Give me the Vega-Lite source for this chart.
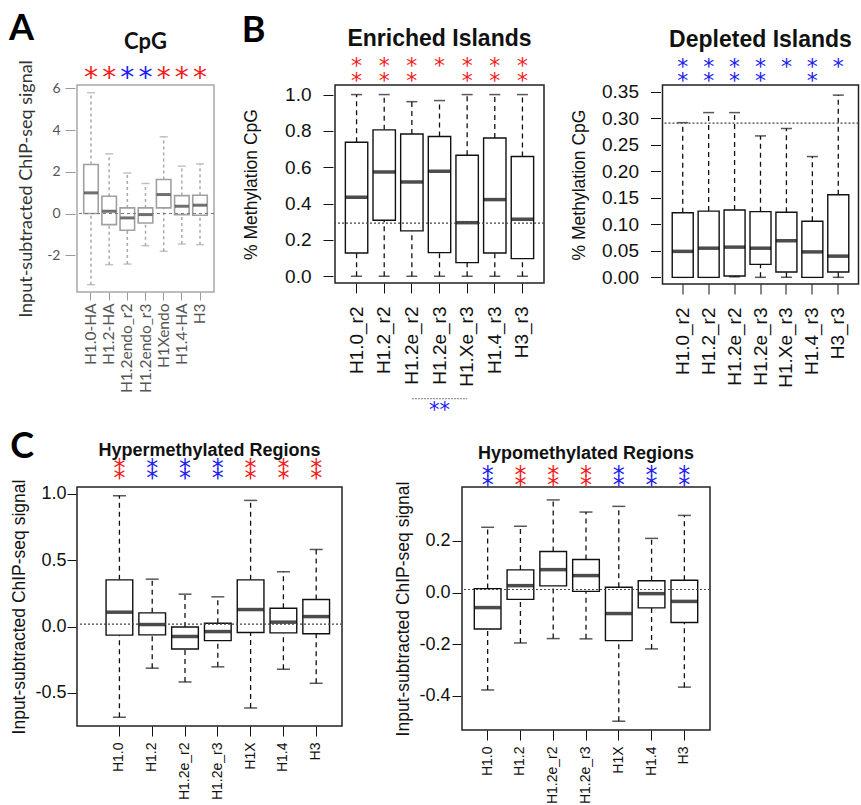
{
  "$schema": "https://vega.github.io/schema/vega-lite/v6.json",
  "padding": {"left": 8, "top": 10, "right": 0, "bottom": 0},
  "config": {
    "font": "Liberation Sans",
    "axis": {"grid": false, "domain": false, "tickColor": "#111", "labelColor": "#111", "titleColor": "#111", "titleFontWeight": "normal", "labelOverlap": false, "labelBound": false, "labelFlush": false},
    "title": {"fontWeight": "bold", "color": "#111"}
  },
  "datasets": {
    "cpg": [
      {"g": "H1.0-HA", "lo": -3.41, "q1": 0.0, "med": 0.99, "q3": 2.35, "hi": 5.79, "sig": "*", "c": "up"},
      {"g": "H1.2-HA", "lo": -2.45, "q1": -0.53, "med": 0.11, "q3": 0.83, "hi": 2.86, "sig": "*", "c": "up"},
      {"g": "H1.2endo_r2", "lo": -2.42, "q1": -0.8, "med": -0.21, "q3": 0.27, "hi": 1.94, "sig": "*", "c": "down"},
      {"g": "H1.2endo_r3", "lo": -1.54, "q1": -0.45, "med": -0.05, "q3": 0.27, "hi": 1.44, "sig": "*", "c": "down"},
      {"g": "H1Xendo", "lo": -1.81, "q1": 0.27, "med": 0.91, "q3": 1.63, "hi": 3.68, "sig": "*", "c": "up"},
      {"g": "H1.4-HA", "lo": -1.46, "q1": -0.05, "med": 0.35, "q3": 0.86, "hi": 2.27, "sig": "*", "c": "up"},
      {"g": "H3", "lo": -1.49, "q1": -0.08, "med": 0.4, "q3": 0.88, "hi": 2.38, "sig": "*", "c": "up"}
    ],
    "enriched": [
      {"g": "H1.0_r2", "lo": 0, "q1": 0.128, "med": 0.435, "q3": 0.738, "hi": 1.0, "sig": "*\n*", "c": "up"},
      {"g": "H1.2_r2", "lo": 0, "q1": 0.308, "med": 0.574, "q3": 0.806, "hi": 1.0, "sig": "*\n*", "c": "up"},
      {"g": "H1.2e_r2", "lo": 0, "q1": 0.25, "med": 0.519, "q3": 0.783, "hi": 0.961, "sig": "*\n*", "c": "up"},
      {"g": "H1.2e_r3", "lo": 0, "q1": 0.13, "med": 0.578, "q3": 0.769, "hi": 0.967, "sig": "*", "c": "up"},
      {"g": "H1.Xe_r3", "lo": 0, "q1": 0.075, "med": 0.295, "q3": 0.666, "hi": 1.0, "sig": "*\n*", "c": "up"},
      {"g": "H1.4_r3", "lo": 0, "q1": 0.128, "med": 0.422, "q3": 0.761, "hi": 1.0, "sig": "*\n*", "c": "up"},
      {"g": "H3_r3", "lo": 0, "q1": 0.097, "med": 0.314, "q3": 0.659, "hi": 1.0, "sig": "*\n*", "c": "up"}
    ],
    "depleted": [
      {"g": "H1.0_r2", "lo": 0, "q1": 0, "med": 0.049, "q3": 0.122, "hi": 0.292, "sig": "*\n*", "c": "down"},
      {"g": "H1.2_r2", "lo": 0, "q1": 0, "med": 0.055, "q3": 0.125, "hi": 0.311, "sig": "*\n*", "c": "down"},
      {"g": "H1.2e_r2", "lo": 0.001, "q1": 0.0025, "med": 0.057, "q3": 0.127, "hi": 0.311, "sig": "*\n*", "c": "down"},
      {"g": "H1.2e_r3", "lo": 0, "q1": 0.0245, "med": 0.055, "q3": 0.124, "hi": 0.267, "sig": "*\n*", "c": "down"},
      {"g": "H1.Xe_r3", "lo": 0, "q1": 0.01, "med": 0.069, "q3": 0.123, "hi": 0.281, "sig": "*", "c": "down"},
      {"g": "H1.4_r3", "lo": 0, "q1": 0, "med": 0.048, "q3": 0.106, "hi": 0.228, "sig": "*\n*", "c": "down"},
      {"g": "H3_r3", "lo": 0, "q1": 0.01, "med": 0.04, "q3": 0.156, "hi": 0.344, "sig": "*", "c": "down"}
    ],
    "hyper": [
      {"g": "H1.0", "lo": -0.684, "q1": -0.065, "med": 0.108, "q3": 0.352, "hi": 0.986, "sig": "*\n*", "c": "up"},
      {"g": "H1.2", "lo": -0.314, "q1": -0.063, "med": 0.015, "q3": 0.103, "hi": 0.357, "sig": "*\n*", "c": "down"},
      {"g": "H1.2e_r2", "lo": -0.418, "q1": -0.169, "med": -0.075, "q3": -0.003, "hi": 0.244, "sig": "*\n*", "c": "down"},
      {"g": "H1.2e_r3", "lo": -0.304, "q1": -0.106, "med": -0.038, "q3": 0.025, "hi": 0.224, "sig": "*\n*", "c": "down"},
      {"g": "H1X", "lo": -0.614, "q1": -0.045, "med": 0.128, "q3": 0.352, "hi": 0.951, "sig": "*\n*", "c": "up"},
      {"g": "H1.4", "lo": -0.322, "q1": -0.048, "med": 0.033, "q3": 0.138, "hi": 0.413, "sig": "*\n*", "c": "up"},
      {"g": "H3", "lo": -0.428, "q1": -0.055, "med": 0.075, "q3": 0.204, "hi": 0.581, "sig": "*\n*", "c": "up"}
    ],
    "hypo": [
      {"g": "H1.0", "lo": -0.377, "q1": -0.141, "med": -0.058, "q3": 0.0155, "hi": 0.253, "sig": "*\n*", "c": "down"},
      {"g": "H1.2", "lo": -0.195, "q1": -0.026, "med": 0.027, "q3": 0.088, "hi": 0.257, "sig": "*\n*", "c": "up"},
      {"g": "H1.2e_r2", "lo": -0.178, "q1": 0.026, "med": 0.089, "q3": 0.159, "hi": 0.359, "sig": "*\n*", "c": "up"},
      {"g": "H1.2e_r3", "lo": -0.179, "q1": 0.005, "med": 0.066, "q3": 0.128, "hi": 0.312, "sig": "*\n*", "c": "up"},
      {"g": "H1X", "lo": -0.498, "q1": -0.186, "med": -0.081, "q3": 0.021, "hi": 0.334, "sig": "*\n*", "c": "down"},
      {"g": "H1.4", "lo": -0.218, "q1": -0.059, "med": -0.004, "q3": 0.046, "hi": 0.21, "sig": "*\n*", "c": "down"},
      {"g": "H3", "lo": -0.366, "q1": -0.116, "med": -0.034, "q3": 0.048, "hi": 0.299, "sig": "*\n*", "c": "down"}
    ],
    "refs": [
      {"p": "A", "v": 0},
      {"p": "E", "v": 0.292},
      {"p": "D", "v": 0.291},
      {"p": "HR", "v": 0.018},
      {"p": "HO", "v": 0.012}
    ],
    "bracket": [
      {"a": "H1.2e_r2", "b": "H1.Xe_r3", "m": "H1.2e_r3", "t": "**"}
    ]
  },
  "vconcat": [
    {
      "hconcat": [
        {
          "title": {"text": "A", "anchor": "start", "frame": "bounds", "font": "Lato", "fontSize": 36, "fontWeight": "bold", "color": "#000", "offset": -18, "dx": -8},
          "vconcat": [
            {
              "width": 137,
              "height": 207,
              "view": {"stroke": "#a8a8a8", "strokeWidth": 1.5},
              "title": {"text": "CpG", "font": "Lato", "fontSize": 22, "fontWeight": "bold", "color": "#111", "offset": 6},
              "data": {"name": "cpg"},
              "encoding": {
                "x": {"field": "g", "type": "nominal", "sort": null,
                  "scale": {"type": "band", "domain": ["H1.0-HA", "H1.2-HA", "H1.2endo_r2", "H1.2endo_r3", "H1Xendo", "H1.4-HA", "H3"], "paddingInner": 0.2, "paddingOuter": 0.37},
                  "axis": {"title": null, "labelAngle": -90, "labelOverlap": false, "labelFont": "Lato", "labelFontSize": 15.5, "labelColor": "#555", "tickColor": "#999", "tickSize": 8, "labelPadding": 3}}
              },
              "layer": [
                {"mark": {"type": "rule", "strokeDash": [3, 3], "color": "#aaa", "strokeWidth": 1.5},
                 "encoding": {"y": {"field": "lo", "type": "quantitative",
                   "scale": {"domain": [-3.76, 6.16], "nice": false, "zero": false},
                   "axis": {"title": "Input-subtracted ChIP-seq signal", "titleFont": "Lato", "titleFontSize": 18, "titleColor": "#333", "titlePadding": 11, "values": [-2, 0, 2, 4, 6], "tickCount": 20, "labelOverlap": false, "labelExpr": "replace(format(datum.value, 'd'), '\u2212', '-')", "labelFont": "Lato", "labelFontSize": 14, "labelColor": "#555", "tickColor": "#999", "tickSize": 10, "offset": 2, "labelPadding": 5}},
                   "y2": {"field": "q1"}}},
                {"mark": {"type": "rule", "strokeDash": [3, 3], "color": "#aaa", "strokeWidth": 1.5},
                 "encoding": {"y": {"field": "q3", "type": "quantitative"}, "y2": {"field": "hi"}}},
                {"mark": {"type": "tick", "size": 8, "thickness": 1.5, "color": "#aaa"},
                 "encoding": {"y": {"field": "lo", "type": "quantitative"}}},
                {"mark": {"type": "tick", "size": 8, "thickness": 1.5, "color": "#aaa"},
                 "encoding": {"y": {"field": "hi", "type": "quantitative"}}},
                {"mark": {"type": "bar", "fill": "white", "stroke": "#a0a0a0", "strokeWidth": 1.6},
                 "encoding": {"y": {"field": "q1", "type": "quantitative"}, "y2": {"field": "q3"}}},
                {"mark": {"type": "tick", "size": 14, "thickness": 3, "color": "#333"},
                 "encoding": {"y": {"field": "med", "type": "quantitative"}}},
                {"data": {"name": "refs"}, "transform": [{"filter": "datum.p == 'A'"}],
                 "mark": {"type": "rule", "strokeDash": [3, 3], "color": "#777", "strokeWidth": 1},
                 "encoding": {"x": null, "y": {"field": "v", "type": "quantitative"}}},
                {"mark": {"type": "text", "font": "DejaVu Sans", "fontSize": 28, "baseline": "middle", "lineBreak": "\n", "lineHeight": 14},
                 "encoding": {"y": {"datum": 6.45}, "text": {"field": "sig"},
                   "color": {"field": "c", "type": "nominal", "scale": {"domain": ["up", "down"], "range": ["#f41c1c", "#2020f4"]}, "legend": null}}}
              ]
            }
          ]
        },
        {
          "title": {"text": "B", "anchor": "start", "frame": "bounds", "font": "Lato", "fontSize": 36, "fontWeight": "bold", "color": "#000", "offset": -22},
          "spacing": 23.5,
          "hconcat": [
            {
              "width": 209,
              "height": 198,
              "view": {"stroke": "#222", "strokeWidth": 1.5},
              "title": {"text": "Enriched Islands", "fontSize": 23, "offset": 4},
              "data": {"name": "enriched"},
              "encoding": {
                "x": {"field": "g", "type": "nominal", "sort": null,
                  "scale": {"type": "band", "domain": ["H1.0_r2", "H1.2_r2", "H1.2e_r2", "H1.2e_r3", "H1.Xe_r3", "H1.4_r3", "H3_r3"], "paddingInner": 0.19, "paddingOuter": 0.375},
                  "axis": {"title": null, "labelAngle": -90, "labelOverlap": false, "labelFontSize": 19, "tickSize": 10, "labelPadding": 13}}
              },
              "layer": [
                {"mark": {"type": "rule", "strokeDash": [5, 4], "color": "#111", "strokeWidth": 1.3},
                 "encoding": {"y": {"field": "lo", "type": "quantitative",
                   "scale": {"domain": [-0.037, 1.0527], "nice": false, "zero": false},
                   "axis": {"title": "% Methylation CpG", "titleFontSize": 17.5, "titlePadding": 24, "values": [0, 0.2, 0.4, 0.6, 0.8, 1.0], "tickCount": 20, "labelOverlap": false, "labelExpr": "format(datum.value, '.1f')", "labelFontSize": 19, "tickSize": 10, "offset": 2, "labelPadding": 12}},
                   "y2": {"field": "q1"}}},
                {"mark": {"type": "rule", "strokeDash": [5, 4], "color": "#111", "strokeWidth": 1.3},
                 "encoding": {"y": {"field": "q3", "type": "quantitative"}, "y2": {"field": "hi"}}},
                {"mark": {"type": "tick", "size": 11, "thickness": 1.5, "color": "#111"},
                 "encoding": {"y": {"field": "lo", "type": "quantitative"}}},
                {"mark": {"type": "tick", "size": 11, "thickness": 1.5, "color": "#111"},
                 "encoding": {"y": {"field": "hi", "type": "quantitative"}}},
                {"mark": {"type": "bar", "fill": "white", "stroke": "#111", "strokeWidth": 1.4},
                 "encoding": {"y": {"field": "q1", "type": "quantitative"}, "y2": {"field": "q3"}}},
                {"mark": {"type": "tick", "size": 22, "thickness": 3.5, "color": "#000"},
                 "encoding": {"y": {"field": "med", "type": "quantitative"}}},
                {"data": {"name": "refs"}, "transform": [{"filter": "datum.p == 'E'"}],
                 "mark": {"type": "rule", "strokeDash": [2, 2], "color": "#444", "strokeWidth": 1.2},
                 "encoding": {"x": null, "y": {"field": "v", "type": "quantitative"}}},
                {"mark": {"type": "text", "font": "DejaVu Sans", "fontSize": 22, "baseline": "middle", "lineBreak": "\n", "lineHeight": 15},
                 "encoding": {"y": {"datum": 1.155}, "text": {"field": "sig"},
                   "color": {"field": "c", "type": "nominal", "scale": {"domain": ["up", "down"], "range": ["#f41c1c", "#2020f4"]}, "legend": null}}},
                {"data": {"name": "bracket"},
                 "mark": {"type": "rule", "strokeDash": [2, 1], "color": "#777", "strokeWidth": 1},
                 "encoding": {"x": {"field": "a", "type": "nominal"}, "x2": {"field": "b"}, "y": {"datum": -0.674}}},
                {"data": {"name": "bracket"},
                 "mark": {"type": "text", "font": "DejaVu Sans", "fontSize": 21, "baseline": "middle", "color": "#2020f4"},
                 "encoding": {"x": {"field": "m", "type": "nominal"}, "y": {"datum": -0.74}, "text": {"field": "t"}}}
              ]
            },
            {
              "width": 196,
              "height": 199,
              "view": {"stroke": "#222", "strokeWidth": 1.5},
              "title": {"text": "Depleted Islands", "fontSize": 23, "offset": 4},
              "data": {"name": "depleted"},
              "encoding": {
                "x": {"field": "g", "type": "nominal", "sort": null,
                  "scale": {"type": "band", "domain": ["H1.0_r2", "H1.2_r2", "H1.2e_r2", "H1.2e_r3", "H1.Xe_r3", "H1.4_r3", "H3_r3"], "paddingInner": 0.19, "paddingOuter": 0.375},
                  "axis": {"title": null, "labelAngle": -90, "labelOverlap": false, "labelFontSize": 19, "tickSize": 10, "labelPadding": 13}}
              },
              "layer": [
                {"mark": {"type": "rule", "strokeDash": [5, 4], "color": "#111", "strokeWidth": 1.3},
                 "encoding": {"y": {"field": "lo", "type": "quantitative",
                   "scale": {"domain": [-0.0126, 0.3631], "nice": false, "zero": false},
                   "axis": {"title": "% Methylation CpG", "titleFontSize": 17.5, "titlePadding": 13, "values": [0, 0.05, 0.1, 0.15, 0.2, 0.25, 0.3, 0.35], "tickCount": 20, "labelOverlap": false, "labelExpr": "format(datum.value, '.2f')", "labelFontSize": 19, "tickSize": 10, "offset": 2, "labelPadding": 12}},
                   "y2": {"field": "q1"}}},
                {"mark": {"type": "rule", "strokeDash": [5, 4], "color": "#111", "strokeWidth": 1.3},
                 "encoding": {"y": {"field": "q3", "type": "quantitative"}, "y2": {"field": "hi"}}},
                {"mark": {"type": "tick", "size": 11, "thickness": 1.5, "color": "#111"},
                 "encoding": {"y": {"field": "lo", "type": "quantitative"}}},
                {"mark": {"type": "tick", "size": 11, "thickness": 1.5, "color": "#111"},
                 "encoding": {"y": {"field": "hi", "type": "quantitative"}}},
                {"mark": {"type": "bar", "fill": "white", "stroke": "#111", "strokeWidth": 1.4},
                 "encoding": {"y": {"field": "q1", "type": "quantitative"}, "y2": {"field": "q3"}}},
                {"mark": {"type": "tick", "size": 21, "thickness": 3.5, "color": "#000"},
                 "encoding": {"y": {"field": "med", "type": "quantitative"}}},
                {"data": {"name": "refs"}, "transform": [{"filter": "datum.p == 'D'"}],
                 "mark": {"type": "rule", "strokeDash": [2, 2], "color": "#444", "strokeWidth": 1.2},
                 "encoding": {"x": null, "y": {"field": "v", "type": "quantitative"}}},
                {"mark": {"type": "text", "font": "DejaVu Sans", "fontSize": 22, "baseline": "middle", "lineBreak": "\n", "lineHeight": 14},
                 "encoding": {"y": {"datum": 0.398}, "text": {"field": "sig"},
                   "color": {"field": "c", "type": "nominal", "scale": {"domain": ["up", "down"], "range": ["#f41c1c", "#2020f4"]}, "legend": null}}}
              ]
            }
          ]
        }
      ],
      "spacing": 25
    },
    {
      "title": {"text": "C", "anchor": "start", "frame": "bounds", "font": "Lato", "fontSize": 36, "fontWeight": "bold", "color": "#000", "offset": -24},
      "spacing": 50,
      "hconcat": [
        {
          "width": 265,
          "height": 239,
          "view": {"stroke": "#222", "strokeWidth": 1.5},
          "title": {"text": "Hypermethylated Regions", "fontSize": 18, "offset": -3},
          "data": {"name": "hyper"},
          "encoding": {
            "x": {"field": "g", "type": "nominal", "sort": null,
              "scale": {"type": "band", "domain": ["H1.0", "H1.2", "H1.2e_r2", "H1.2e_r3", "H1X", "H1.4", "H3"], "paddingInner": 0.186, "paddingOuter": 0.633, "align": 0.7},
              "axis": {"title": null, "labelAngle": -90, "labelOverlap": false, "labelFontSize": 14, "tickSize": 10, "labelPadding": 6}}
          },
          "layer": [
            {"mark": {"type": "rule", "strokeDash": [5, 4], "color": "#111", "strokeWidth": 1.3},
             "encoding": {"y": {"field": "lo", "type": "quantitative",
               "scale": {"domain": [-0.75, 1.052], "nice": false, "zero": false},
               "axis": {"title": "Input-subtracted ChIP-seq signal", "titleFontSize": 17.5, "titlePadding": 6, "values": [-0.5, 0, 0.5, 1.0], "tickCount": 20, "labelOverlap": false, "labelExpr": "replace(format(datum.value, '.1f'), '\u2212', '-')", "labelFontSize": 18, "tickSize": 9, "offset": 1, "labelPadding": 1}},
               "y2": {"field": "q1"}}},
            {"mark": {"type": "rule", "strokeDash": [5, 4], "color": "#111", "strokeWidth": 1.3},
             "encoding": {"y": {"field": "q3", "type": "quantitative"}, "y2": {"field": "hi"}}},
            {"mark": {"type": "tick", "size": 13, "thickness": 1.5, "color": "#111"},
             "encoding": {"y": {"field": "lo", "type": "quantitative"}}},
            {"mark": {"type": "tick", "size": 13, "thickness": 1.5, "color": "#111"},
             "encoding": {"y": {"field": "hi", "type": "quantitative"}}},
            {"mark": {"type": "bar", "fill": "white", "stroke": "#111", "strokeWidth": 1.4},
             "encoding": {"y": {"field": "q1", "type": "quantitative"}, "y2": {"field": "q3"}}},
            {"mark": {"type": "tick", "size": 26, "thickness": 3.5, "color": "#000"},
             "encoding": {"y": {"field": "med", "type": "quantitative"}}},
            {"data": {"name": "refs"}, "transform": [{"filter": "datum.p == 'HR'"}],
             "mark": {"type": "rule", "strokeDash": [2, 2], "color": "#444", "strokeWidth": 1.2},
             "encoding": {"x": null, "y": {"field": "v", "type": "quantitative"}}},
            {"mark": {"type": "text", "font": "DejaVu Sans", "fontSize": 24, "baseline": "middle", "lineBreak": "\n", "lineHeight": 10},
             "encoding": {"y": {"datum": 1.185}, "text": {"field": "sig"},
               "color": {"field": "c", "type": "nominal", "scale": {"domain": ["up", "down"], "range": ["#f41c1c", "#2020f4"]}, "legend": null}}}
          ]
        },
        {
          "width": 248,
          "height": 243,
          "view": {"stroke": "#222", "strokeWidth": 1.5},
          "title": {"text": "Hypomethylated Regions", "fontSize": 18, "offset": 1},
          "data": {"name": "hypo"},
          "encoding": {
            "x": {"field": "g", "type": "nominal", "sort": null,
              "scale": {"type": "band", "domain": ["H1.0", "H1.2", "H1.2e_r2", "H1.2e_r3", "H1X", "H1.4", "H3"], "paddingInner": 0.186, "paddingOuter": 0.375},
              "axis": {"title": null, "labelAngle": -90, "labelOverlap": false, "labelFontSize": 14, "tickSize": 10, "labelPadding": 6}}
          },
          "layer": [
            {"mark": {"type": "rule", "strokeDash": [5, 4], "color": "#111", "strokeWidth": 1.3},
             "encoding": {"y": {"field": "lo", "type": "quantitative",
               "scale": {"domain": [-0.532, 0.409], "nice": false, "zero": false},
               "axis": {"title": "Input-subtracted ChIP-seq signal", "titleFontSize": 17.5, "titlePadding": 6, "values": [-0.4, -0.2, 0, 0.2], "tickCount": 20, "labelOverlap": false, "labelExpr": "replace(format(datum.value, '.1f'), '\u2212', '-')", "labelFontSize": 18, "tickSize": 9, "offset": 1, "labelPadding": 2}},
               "y2": {"field": "q1"}}},
            {"mark": {"type": "rule", "strokeDash": [5, 4], "color": "#111", "strokeWidth": 1.3},
             "encoding": {"y": {"field": "q3", "type": "quantitative"}, "y2": {"field": "hi"}}},
            {"mark": {"type": "tick", "size": 13, "thickness": 1.5, "color": "#111"},
             "encoding": {"y": {"field": "lo", "type": "quantitative"}}},
            {"mark": {"type": "tick", "size": 13, "thickness": 1.5, "color": "#111"},
             "encoding": {"y": {"field": "hi", "type": "quantitative"}}},
            {"mark": {"type": "bar", "fill": "white", "stroke": "#111", "strokeWidth": 1.4},
             "encoding": {"y": {"field": "q1", "type": "quantitative"}, "y2": {"field": "q3"}}},
            {"mark": {"type": "tick", "size": 26, "thickness": 3.5, "color": "#000"},
             "encoding": {"y": {"field": "med", "type": "quantitative"}}},
            {"data": {"name": "refs"}, "transform": [{"filter": "datum.p == 'HO'"}],
             "mark": {"type": "rule", "strokeDash": [2, 2], "color": "#444", "strokeWidth": 1.2},
             "encoding": {"x": null, "y": {"field": "v", "type": "quantitative"}}},
            {"mark": {"type": "text", "font": "DejaVu Sans", "fontSize": 24, "baseline": "middle", "lineBreak": "\n", "lineHeight": 10},
             "encoding": {"y": {"datum": 0.452}, "text": {"field": "sig"},
               "color": {"field": "c", "type": "nominal", "scale": {"domain": ["up", "down"], "range": ["#f41c1c", "#2020f4"]}, "legend": null}}}
          ]
        }
      ]
    }
  ],
  "spacing": 6
}
